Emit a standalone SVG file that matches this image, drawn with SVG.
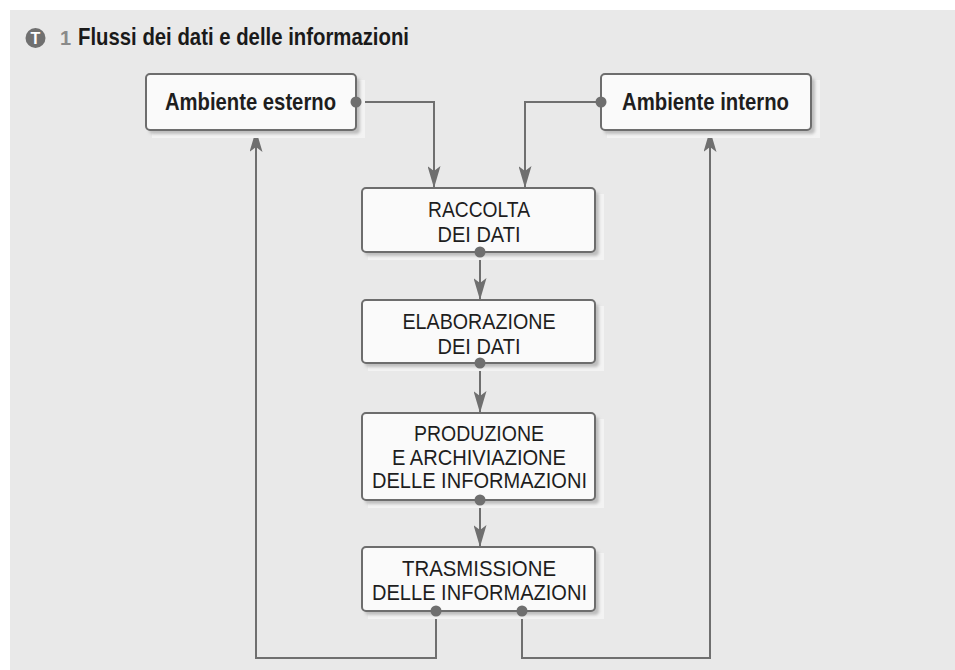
<svg xmlns="http://www.w3.org/2000/svg" width="955" height="670" viewBox="0 0 955 670">
  <style>
    .panel { fill: #e9e9e9; }
    .box { fill: #fafafa; stroke: #6d6d6d; stroke-width: 2; }
    .halo { fill: #f3f3f3; }
    .shade { fill: #bdbdbd; filter: url(#soft); }
    .lbl { font-family: "Liberation Sans Narrow", "Liberation Sans", Arial, sans-serif; font-size: 22.5px; fill: #1e1e1e; text-anchor: middle; }
    .env { font-family: "Liberation Sans Narrow", "Liberation Sans", Arial, sans-serif; font-size: 24px; font-weight: bold; fill: #1e1e1e; text-anchor: middle; }
    .title { font-family: "Liberation Sans Narrow", "Liberation Sans", Arial, sans-serif; font-size: 24px; font-weight: bold; fill: #1a1a1a; }
    .wire { fill: none; stroke: #6f6f6f; stroke-width: 2; marker-end: url(#tip); }
    .dot { fill: #6f6f6f; }
  </style>
  <defs>
    <filter id="soft" x="-10%" y="-30%" width="120%" height="160%">
      <feGaussianBlur stdDeviation="1.8"/>
    </filter>
    <marker id="tip" viewBox="0 0 22 13" refX="22" refY="6.5" markerWidth="22" markerHeight="13" markerUnits="userSpaceOnUse" orient="auto">
      <path d="M0,0 L22,6.5 L0,13 L5,6.5 Z" fill="#6f6f6f"/>
    </marker>
  </defs>

  <!-- background panel -->
  <rect x="0" y="0" width="955" height="670" fill="#ffffff"/>
  <rect class="panel" x="10" y="10" width="945" height="660"/>

  <!-- heading -->
  <g id="heading">
    <circle cx="35.5" cy="38" r="10" fill="#707070"/>
    <text x="35.5" y="44" font-family="Liberation Sans, Arial, sans-serif" font-size="16" font-weight="bold" fill="#ffffff" text-anchor="middle">T</text>
    <text x="60" y="45" font-family="Liberation Sans Narrow, Liberation Sans, Arial, sans-serif" font-size="20" font-weight="bold" fill="#8a8a8a">1</text>
    <text class="title" x="78" y="45" textLength="331" lengthAdjust="spacingAndGlyphs">Flussi dei dati e delle informazioni</text>
  </g>

  <!-- connectors -->
  <g id="connectors">
    <path class="wire" d="M356,102 H434 V188"/>
    <path class="wire" d="M601,102 H525 V188"/>
    <path class="wire" d="M480,252 V300"/>
    <path class="wire" d="M480,363 V413"/>
    <path class="wire" d="M480,500 V547"/>
    <path class="wire" d="M436,611 V658 H256 V130"/>
    <path class="wire" d="M522,611 V658 H710 V130"/>
  </g>

  <!-- nodes -->
  <g id="ambiente-esterno">
    <rect class="halo" x="152" y="80" width="213" height="58"/>
    <rect class="shade" x="149" y="78" width="211" height="56" rx="4"/>
    <rect class="box" x="146" y="74" width="210" height="56" rx="4"/>
    <text class="env" x="250.5" y="110" textLength="171" lengthAdjust="spacingAndGlyphs">Ambiente esterno</text>
    <circle class="dot" cx="356" cy="102" r="5.5"/>
  </g>

  <g id="ambiente-interno">
    <rect class="halo" x="607" y="80" width="213" height="58"/>
    <rect class="shade" x="604" y="78" width="211" height="56" rx="4"/>
    <rect class="box" x="601" y="74" width="210" height="56" rx="4"/>
    <text class="env" x="705.5" y="110" textLength="167" lengthAdjust="spacingAndGlyphs">Ambiente interno</text>
    <circle class="dot" cx="601" cy="102" r="5.5"/>
  </g>

  <g id="raccolta">
    <rect class="halo" x="368" y="194" width="236" height="66"/>
    <rect class="shade" x="365" y="192" width="234" height="64" rx="4"/>
    <rect class="box" x="362" y="188" width="233" height="64" rx="4"/>
    <text class="lbl" x="479" y="217" textLength="102" lengthAdjust="spacingAndGlyphs">RACCOLTA</text>
    <text class="lbl" x="479" y="242" textLength="83" lengthAdjust="spacingAndGlyphs">DEI DATI</text>
    <circle class="dot" cx="480" cy="252" r="5.5"/>
  </g>

  <g id="elaborazione">
    <rect class="halo" x="368" y="306" width="236" height="65"/>
    <rect class="shade" x="365" y="304" width="234" height="63" rx="4"/>
    <rect class="box" x="362" y="300" width="233" height="63" rx="4"/>
    <text class="lbl" x="479" y="329" textLength="153" lengthAdjust="spacingAndGlyphs">ELABORAZIONE</text>
    <text class="lbl" x="479" y="354" textLength="83" lengthAdjust="spacingAndGlyphs">DEI DATI</text>
    <circle class="dot" cx="480" cy="363" r="5.5"/>
  </g>

  <g id="produzione">
    <rect class="halo" x="368" y="419" width="236" height="89"/>
    <rect class="shade" x="365" y="417" width="234" height="87" rx="4"/>
    <rect class="box" x="362" y="413" width="233" height="87" rx="4"/>
    <text class="lbl" x="479" y="441" textLength="130" lengthAdjust="spacingAndGlyphs">PRODUZIONE</text>
    <text class="lbl" x="479" y="464.5" textLength="174" lengthAdjust="spacingAndGlyphs">E ARCHIVIAZIONE</text>
    <text class="lbl" x="479.5" y="488" textLength="215" lengthAdjust="spacingAndGlyphs">DELLE INFORMAZIONI</text>
    <circle class="dot" cx="480" cy="500" r="5.5"/>
  </g>

  <g id="trasmissione">
    <rect class="halo" x="368" y="553" width="236" height="66"/>
    <rect class="shade" x="365" y="551" width="234" height="64" rx="4"/>
    <rect class="box" x="362" y="547" width="233" height="64" rx="4"/>
    <text class="lbl" x="479" y="576" textLength="154" lengthAdjust="spacingAndGlyphs">TRASMISSIONE</text>
    <text class="lbl" x="479.5" y="600" textLength="215" lengthAdjust="spacingAndGlyphs">DELLE INFORMAZIONI</text>
    <circle class="dot" cx="436" cy="611" r="5.5"/>
    <circle class="dot" cx="522" cy="611" r="5.5"/>
  </g>
</svg>
